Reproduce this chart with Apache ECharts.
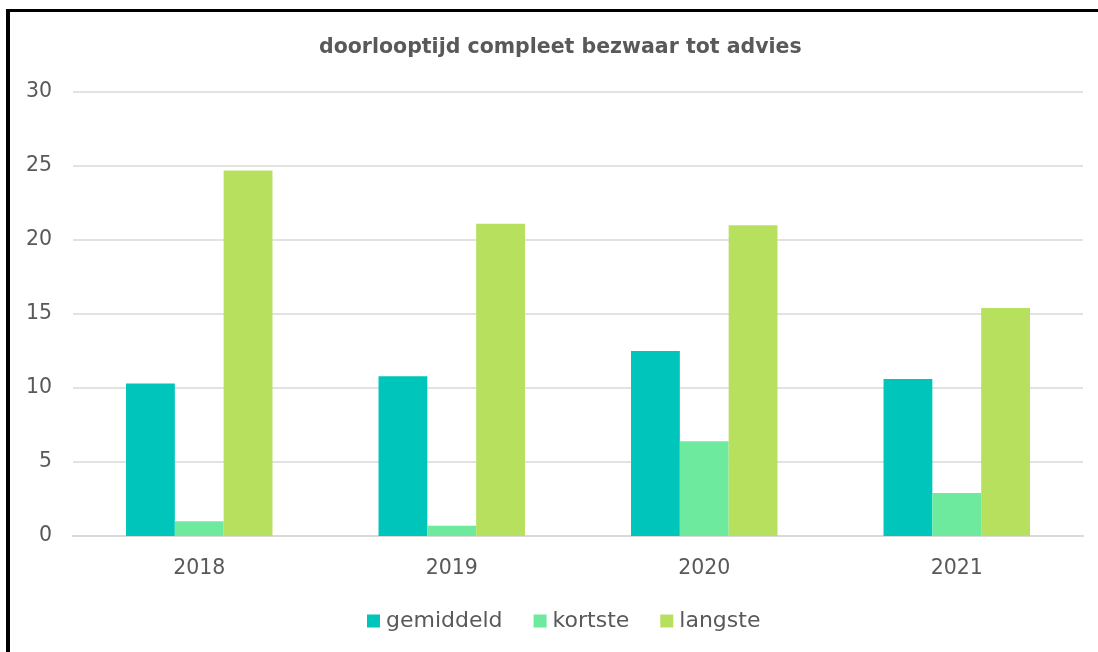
<!DOCTYPE html>
<html><head><meta charset="utf-8">
<script src="https://cdn.jsdelivr.net/npm/echarts@6/dist/echarts.min.js"></script>
<style>html,body{margin:0;padding:0;background:#fff}#c{width:1098px;height:652px}</style>
</head><body><div id="c"></div>
<script>
const categories = ['2018', '2019', '2020', '2021'];
const gemiddeld = [10.3, 10.8, 12.5, 10.6];
const kortste = [1.0, 0.7, 6.4, 2.9];
const langste = [24.7, 21.1, 21.0, 15.4];
const yTicks = [0, 5, 10, 15, 20, 25, 30];

const font = '"DejaVu Sans", sans-serif';
const chart = echarts.init(document.getElementById('c'), null, {renderer: 'canvas'});
const mk = (name, data, color) => ({
  name, type: 'bar', data, barGap: '0%', barCategoryGap: '42%',
  itemStyle: {color}, emphasis: {disabled: true}
});
chart.setOption({
  animation: false,
  title: {
    text: 'doorlooptijd compleet bezwaar tot advies', left: 314, top: 32,
    textStyle: {fontFamily: font, fontWeight: 'bold', fontSize: 20.5, color: '#595959'}
  },
  grid: {left: 73, right: 15, top: 92, bottom: 116, containLabel: false},
  legend: {
    bottom: 15, left: 362, itemWidth: 13, itemHeight: 13, itemGap: 31,
    icon: 'rect',
    textStyle: {fontFamily: font, fontSize: 22, color: '#595959', padding: [0, 0, 0, 1]},
    data: ['gemiddeld', 'kortste', 'langste']
  },
  xAxis: {
    type: 'category', data: categories,
    axisLine: {lineStyle: {color: '#d9d9d9', width: 2}},
    axisTick: {show: false},
    axisLabel: {fontFamily: font, fontSize: 20.5, color: '#595959', margin: 22}
  },
  yAxis: {
    type: 'value', min: yTicks[0], max: yTicks[yTicks.length - 1], interval: 5,
    axisLine: {show: false}, axisTick: {show: false},
    splitLine: {lineStyle: {color: '#d9d9d9', width: 1.5}},
    axisLabel: {fontFamily: font, fontSize: 20.5, color: '#595959', margin: 21, align: 'right'}
  },
  series: [
    mk('gemiddeld', gemiddeld, '#00c5bb'),
    mk('kortste', kortste, '#6eea9e'),
    mk('langste', langste, '#b8e05f')
  ],
  graphic: [
    {type: 'rect', shape: {x: 6, y: 9, width: 4, height: 660}, style: {fill: '#000'}},
    {type: 'rect', shape: {x: 6, y: 9, width: 1100, height: 3}, style: {fill: '#000'}}
  ]
});
</script></body></html>
